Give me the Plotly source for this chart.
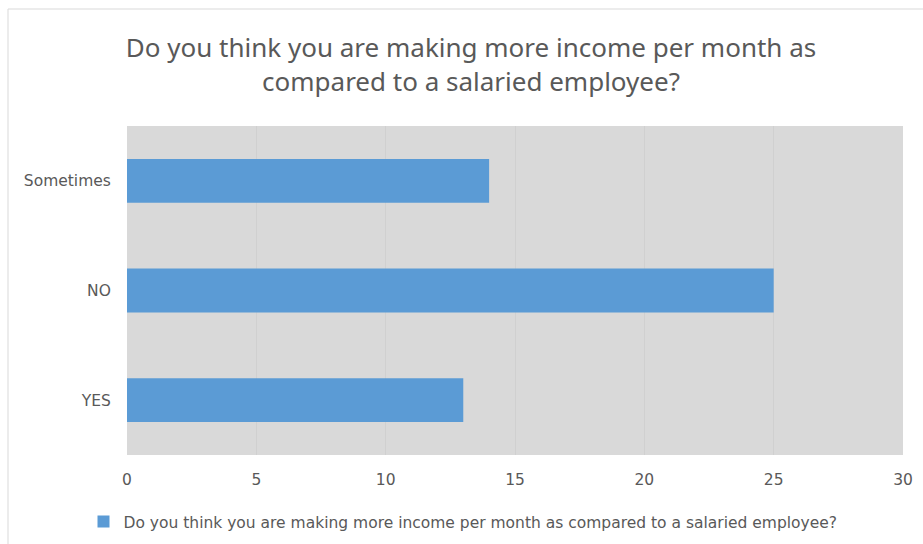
import plotly.graph_objects as go

# Survey responses (bottom to top)
categories = ["YES", "NO", "Sometimes"]
counts = [13, 25, 14]
series_name = "Do you think you are making more income per month as compared to a salaried employee?"
title_text = "Do you think you are making more income per month as<br>compared to a salaried employee?"
x_ticks = [0, 5, 10, 15, 20, 25, 30]

W, H = 923, 544
ml, mr, mt, mb = 127, 20, 126, 89
pw = W - ml - mr
ph = H - mt - mb

tick_font = dict(family="DejaVu Sans, Noto Sans, sans-serif", size=15.5, color="#595959")

fig = go.Figure()
fig.add_trace(go.Bar(
    y=categories,
    x=counts,
    orientation="h",
    name=series_name,
    marker=dict(color="#5b9bd5", line=dict(width=0)),
    width=0.4,
    showlegend=True,
))

fig.update_layout(
    width=W,
    height=H,
    margin=dict(l=ml, r=mr, t=mt, b=mb, autoexpand=False),
    paper_bgcolor="white",
    plot_bgcolor="#d9d9d9",
    font=dict(family="Noto Sans, Open Sans, sans-serif", color="#595959", size=13),
    title=dict(
        text=title_text,
        x=471 / W,
        xanchor="center",
        y=1 - 57 / H,
        yanchor="middle",
        font=dict(size=26, color="#595959", family="Noto Sans, Open Sans, sans-serif"),
    ),
    xaxis=dict(
        range=[0, 30],
        tickvals=x_ticks,
        showgrid=True,
        gridcolor="#d0d0d0",
        gridwidth=1,
        zeroline=False,
        showline=False,
        ticks="outside",
        ticklen=10,
        tickcolor="rgba(0,0,0,0)",
        tickfont=tick_font,
    ),
    yaxis=dict(
        showgrid=False,
        zeroline=False,
        showline=False,
        ticks="outside",
        ticklen=12,
        tickcolor="rgba(0,0,0,0)",
        tickfont=tick_font,
    ),
    legend=dict(
        orientation="h",
        x=(463 - ml) / pw,
        xanchor="center",
        y=(ph - (522 - mt)) / ph,
        yanchor="middle",
        font=dict(size=15.5, color="#595959", family="DejaVu Sans, Noto Sans, sans-serif"),
        bgcolor="rgba(0,0,0,0)",
        itemwidth=30,
    ),
    shapes=[
        dict(
            type="rect",
            xref="paper",
            yref="paper",
            x0=(8 - ml) / pw,
            x1=(W + 20 - ml) / pw,
            y0=-(H + 20 - mt - ph) / ph,
            y1=1 + (mt - 9) / ph,
            line=dict(color="#d9d9d9", width=1),
            fillcolor="rgba(0,0,0,0)",
            layer="below",
        )
    ],
)

fig.write_html("out.html")
